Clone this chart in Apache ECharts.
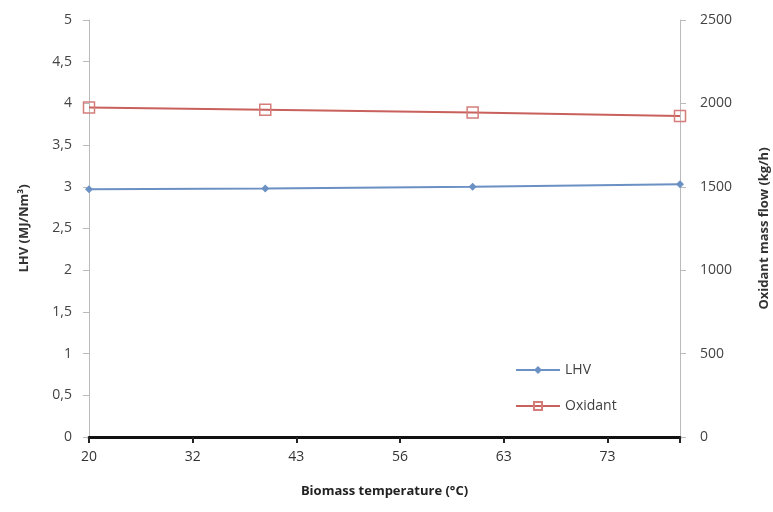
<!DOCTYPE html>
<html>
<head>
<meta charset="utf-8">
<script src="https://cdn.jsdelivr.net/npm/echarts@6/dist/echarts.min.js"></script>
<style>html,body{margin:0;padding:0;background:#fff;}#c{width:773px;height:512px;}</style>
</head>
<body>
<div id="c"></div>
<script>
var temps = [20, 37, 57, 77];
var lhv = [2.97, 2.98, 3.0, 3.03];
var oxidant = [1975, 1962, 1945, 1925];
var xTickLabels = ['20', '32', '43', '56', '63', '73'];
var leftTickLabels = ['0', '0,5', '1', '1,5', '2', '2,5', '3', '3,5', '4', '4,5', '5'];
var rightTickLabels = ['0', '500', '1000', '1500', '2000', '2500'];

var chart = echarts.init(document.getElementById('c'));
var txt = {color: '#444', fontFamily: 'Open Sans, DejaVu Sans, sans-serif', fontSize: 14};
chart.setOption({
  animation: false,
  grid: {left: 89, right: 93, top: 20, bottom: 75, containLabel: false, outerBoundsMode: 'none'},
  legend: {
    orient: 'vertical', left: 510, top: 358, itemGap: 22, itemWidth: 44, itemHeight: 10,
    textStyle: {color: '#404040', fontFamily: 'Open Sans, DejaVu Sans, sans-serif', fontSize: 14},
    data: ['LHV', 'Oxidant']
  },
  xAxis: {
    type: 'value', min: 20, max: 77, interval: 10,
    name: 'Biomass temperature (°C)', nameLocation: 'middle', nameGap: 48,
    nameTextStyle: {color: '#222', fontFamily: 'Open Sans, DejaVu Sans, sans-serif', fontSize: 13, fontWeight: 'bold'},
    axisLine: {lineStyle: {color: '#111', width: 3}},
    axisTick: {lineStyle: {color: '#222', width: 2}, length: 6},
    splitLine: {show: false},
    axisLabel: Object.assign({}, txt, {color: '#333', margin: 13, formatter: function (v) {
      var i = (v - 20) / 10;
      return Number.isInteger(i) && xTickLabels[i] !== undefined ? xTickLabels[i] : '';
    }})
  },
  yAxis: [{
    type: 'value', min: 0, max: 5, interval: 0.5,
    name: 'LHV (MJ/Nm³)', nameLocation: 'middle', nameGap: 58, nameRotate: 90,
    nameTextStyle: {color: '#333', fontFamily: 'Open Sans, DejaVu Sans, sans-serif', fontSize: 13, fontWeight: 'bold'},
    axisLine: {show: true, lineStyle: {color: '#bbbbbb', width: 1}},
    axisTick: {show: true, lineStyle: {color: '#bbbbbb'}, length: 6},
    splitLine: {show: false},
    axisLabel: Object.assign({}, txt, {margin: 17, formatter: function (v) {
      var i = Math.round(v * 2);
      return leftTickLabels[i];
    }})
  }, {
    type: 'value', min: 0, max: 2500, interval: 500, position: 'right',
    name: 'Oxidant mass flow (kg/h)', nameLocation: 'middle', nameGap: 78, nameRotate: 90,
    nameTextStyle: {color: '#333', fontFamily: 'Open Sans, DejaVu Sans, sans-serif', fontSize: 13, fontWeight: 'bold'},
    axisLine: {show: true, lineStyle: {color: '#bbbbbb', width: 1}},
    axisTick: {show: true, lineStyle: {color: '#bbbbbb'}, length: 6},
    splitLine: {show: false},
    axisLabel: Object.assign({}, txt, {margin: 20, formatter: function (v) {
      return rightTickLabels[Math.round(v / 500)];
    }})
  }],
  series: [{
    name: 'LHV', type: 'line', yAxisIndex: 0,
    data: temps.map(function (t, i) { return [t, lhv[i]]; }),
    symbol: 'diamond', symbolSize: 8, showAllSymbol: true,
    lineStyle: {color: '#6a90c4', width: 2},
    itemStyle: {color: '#6a90c4'}
  }, {
    name: 'Oxidant', type: 'line', yAxisIndex: 1,
    data: temps.map(function (t, i) { return [t, oxidant[i]]; }),
    symbol: 'rect', symbolSize: 11, showAllSymbol: true,
    lineStyle: {color: '#c8605c', width: 2},
    itemStyle: {color: 'rgba(255,255,255,0)', borderColor: '#d47d79', borderWidth: 1.5}
  }]
});
</script>
</body>
</html>
